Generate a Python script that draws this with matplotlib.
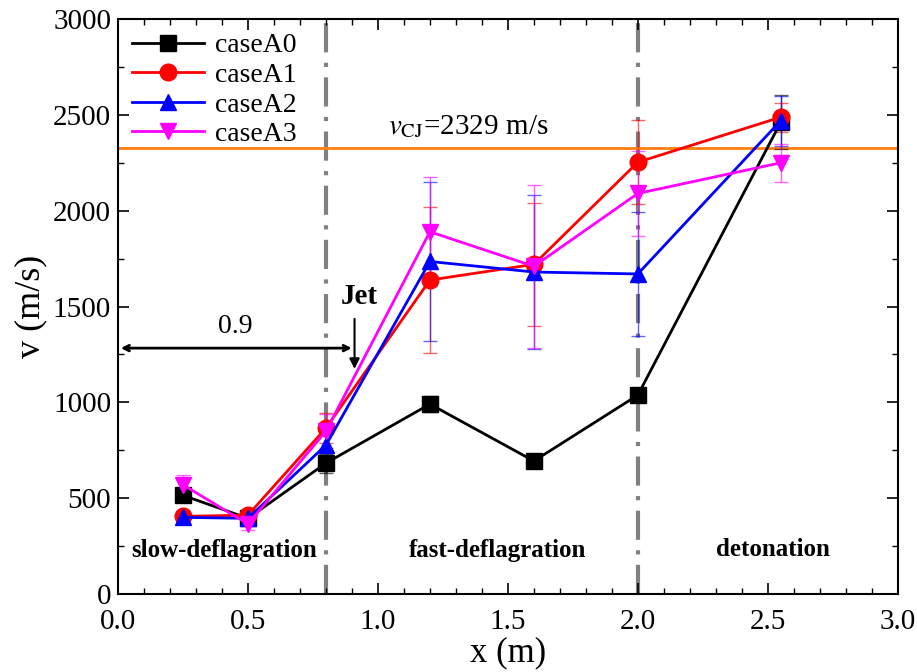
import matplotlib
matplotlib.use("Agg")
import matplotlib.pyplot as plt
from matplotlib.ticker import MultipleLocator

plt.rcParams["font.family"] = ["Liberation Serif", "DejaVu Serif"]
plt.rcParams["mathtext.fontset"] = "stix"

x = [0.25, 0.5, 0.8, 1.2, 1.6, 2.0, 2.55]
caseA0 = [515, 395, 683, 991, 694, 1038, 2462]
caseA1 = [405, 412, 866, 1638, 1720, 2253, 2488]
caseA2 = [400, 395, 777, 1735, 1680, 1670, 2470]
caseA3 = [570, 365, 850, 1890, 1710, 2090, 2250]
errA0 = [30, 25, 50, 40, 30, 30, 140]
errA1 = [30, 30, 80, 380, 320, 220, 75]
errA2 = [30, 30, 60, 415, 400, 325, 130]
errA3 = [50, 30, 90, 285, 425, 220, 100]

v_cj = 2329
boundaries = [0.8, 2.0]

series = [
    ("caseA0", caseA0, errA0, "black", "s"),
    ("caseA1", caseA1, errA1, "red", "o"),
    ("caseA2", caseA2, errA2, "blue", "^"),
    ("caseA3", caseA3, errA3, "magenta", "v"),
]

fig = plt.figure(figsize=(9.17, 6.72), dpi=100)
ax = fig.add_axes([0.1287, 0.116, 0.8503, 0.8557])

for xb in boundaries:
    ax.axvline(xb, color="gray", lw=3, linestyle=(0, (7, 2.5, 1, 2.5)), zorder=1)
ax.axhline(v_cj, color="#ff7f0e", lw=2, zorder=1)

for name, y, err, c, m in series:
    ax.errorbar(x, y, yerr=err, fmt="none", ecolor=c, elinewidth=1,
                capsize=5, capthick=1, alpha=0.6, zorder=2)
    ax.plot(x, y, "-", color=c, lw=2, marker=m, markersize=12,
            label=name, zorder=3)

ax.annotate("", xy=(0.0, 1283), xytext=(0.91, 1283),
            arrowprops=dict(arrowstyle="<->", color="black", lw=2))
ax.text(0.45, 1330, "0.9", fontsize=20, ha="center", va="bottom")
ax.annotate("", xy=(0.91, 1160), xytext=(0.91, 1450),
            arrowprops=dict(arrowstyle="-|>", color="black", lw=1.5,
                            mutation_scale=15))
ax.text(0.93, 1480, "Jet", fontsize=21, fontweight="bold",
        ha="center", va="bottom")
ax.text(1.04, 2440, r"$v_{\rm CJ}$=2329 m/s", fontsize=21, ha="left",
        va="center")

ax.text(0.41, 225, "slow-deflagration", fontsize=18, fontweight="bold",
        ha="center", va="center")
ax.text(1.46, 225, "fast-deflagration", fontsize=18, fontweight="bold",
        ha="center", va="center")
ax.text(2.52, 235, "detonation", fontsize=18, fontweight="bold",
        ha="center", va="center")

ax.set_xlim(0, 3)
ax.set_ylim(0, 3000)
ax.xaxis.set_major_locator(MultipleLocator(0.5))
ax.xaxis.set_minor_locator(MultipleLocator(0.1))
ax.yaxis.set_major_locator(MultipleLocator(500))
ax.yaxis.set_minor_locator(MultipleLocator(250))
ax.xaxis.set_major_formatter(plt.FuncFormatter(lambda v, p: f"{v:.1f}"))
ax.tick_params(which="both", direction="in", top=True, right=True,
               labelsize=21)
ax.tick_params(axis="x", which="major", pad=11)
ax.tick_params(axis="y", which="major", pad=5)
ax.tick_params(which="major", length=8, width=1.2)
ax.tick_params(which="minor", length=4, width=1)
for s in ax.spines.values():
    s.set_linewidth(1.5)

ax.set_xlabel("x (m)", fontsize=25, labelpad=1)
ax.set_ylabel("v (m/s)", fontsize=26, labelpad=4)

ax.legend(loc="upper left", frameon=False, fontsize=20, handlelength=2.6,
          borderaxespad=0.2, labelspacing=0.15, borderpad=0.3,
          handletextpad=0.4)

fig.savefig("out.png", dpi=100)
